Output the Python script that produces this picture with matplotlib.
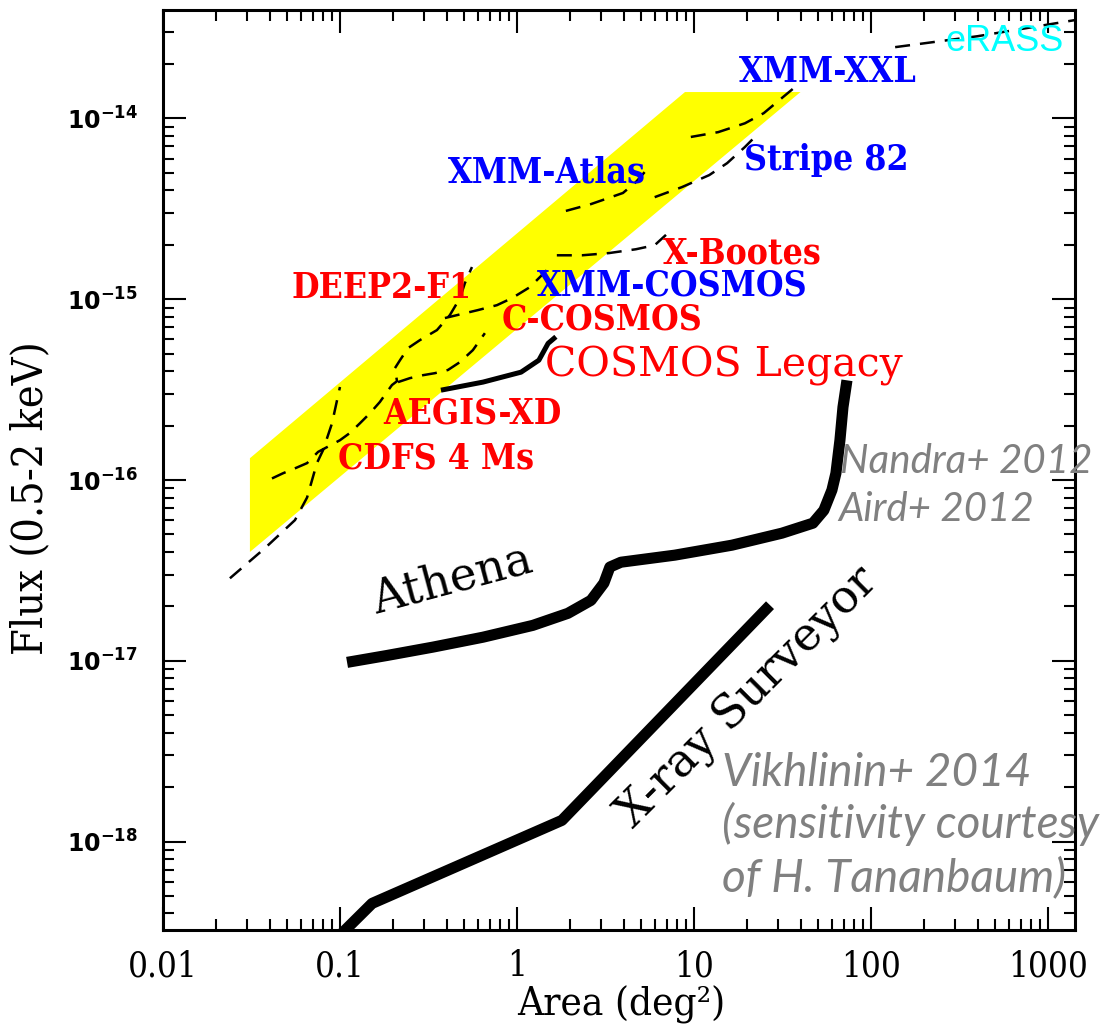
import matplotlib
matplotlib.use('Agg')
import matplotlib.pyplot as plt

# survey limits (area in deg^2, flux in erg/cm2/s)
band_x = [0.031, 0.031, 8.9, 40.0]
band_y = [4.0e-17, 1.32e-16, 1.4e-14, 1.4e-14]

cdfs_x = [0.0239, 0.0377, 0.0557, 0.0652, 0.0741, 0.0802, 0.0902, 0.100]
cdfs_y = [2.86e-17, 4.2e-17, 6.0e-17, 8.0e-17, 1.24e-16, 1.46e-16, 2.06e-16, 3.27e-16]

aegis_x = [0.0413, 0.0477, 0.0557, 0.0652, 0.0752, 0.100, 0.1138, 0.1297, 0.1477, 0.168, 0.1966, 0.21, 0.2046]
aegis_y = [1.02e-16, 1.09e-16, 1.16e-16, 1.24e-16, 1.43e-16, 1.66e-16, 1.82e-16, 2.06e-16, 2.34e-16, 2.70e-16, 3.35e-16, 3.52e-16, 4.16e-16]

deep2_x = [0.2046, 0.2184, 0.2422, 0.283, 0.3532, 0.4178, 0.4764, 0.508, 0.557]
deep2_y = [4.16e-16, 4.60e-16, 5.36e-16, 5.94e-16, 6.75e-16, 8.17e-16, 1.014e-15, 1.227e-15, 1.507e-15]

ccosmos_x = [0.2128, 0.2484, 0.2943, 0.344, 0.4074, 0.4764, 0.5637, 0.659]
ccosmos_y = [3.48e-16, 3.66e-16, 3.80e-16, 3.90e-16, 4.06e-16, 4.49e-16, 5.23e-16, 6.49e-16]

xmmcosmos_x = [0.3917, 0.6026, 0.7705, 0.9376, 1.184, 1.476]
xmmcosmos_y = [7.87e-16, 8.71e-16, 9.27e-16, 1.014e-15, 1.167e-15, 1.449e-15]

bootes_x = [1.68, 2.33, 3.31, 4.7, 6.0, 6.95]
bootes_y = [1.75e-15, 1.75e-15, 1.80e-15, 1.89e-15, 1.99e-15, 2.27e-15]

atlas_x = [1.89, 2.62, 3.97, 4.7, 5.5]
atlas_y = [3.08e-15, 3.36e-15, 3.87e-15, 4.45e-15, 5.3e-15]

stripe_x = [6.0, 8.55, 12.2, 15.4, 19.4, 22.1]
stripe_y = [3.67e-15, 4.17e-15, 4.86e-15, 5.66e-15, 6.95e-15, 7.9e-15]

xxl_x = [9.6, 13.7, 19.4, 24.8, 29.4, 37.2]
xxl_y = [7.9e-15, 8.4e-15, 9.4e-15, 1.07e-14, 1.23e-14, 1.49e-14]

erass_x = [137, 400, 1420]
erass_y = [2.48e-14, 2.85e-14, 3.5e-14]

legacy_x = [0.372, 0.643, 1.055, 1.33, 1.50, 1.66]
legacy_y = [3.14e-16, 3.48e-16, 3.95e-16, 4.6e-16, 5.7e-16, 6.2e-16]

athena_x = [0.1097, 0.1845, 0.335, 0.642, 1.23, 1.94, 2.62, 3.10, 3.35, 3.87, 7.8, 16.4, 31.4, 47, 54.2, 60.2, 63.4, 66.8, 69.5, 73.2]
athena_y = [9.8e-18, 1.07e-17, 1.19e-17, 1.35e-17, 1.57e-17, 1.83e-17, 2.16e-17, 2.69e-17, 3.3e-17, 3.51e-17,
            3.84e-17, 4.36e-17, 5.08e-17, 5.77e-17, 6.8e-17, 8.8e-17, 1.09e-16, 1.66e-16, 2.53e-16, 3.56e-16]

surveyor_x = [0.1, 0.152, 1.795, 26.9]
surveyor_y = [3.03e-19, 4.55e-19, 1.31e-18, 2.03e-17]

xtick_vals = [0.01, 0.1, 1, 10, 100, 1000]
xtick_labels = ['0.01', '0.1', '1', '10', '100', '1000']
ytick_vals = [1e-18, 1e-17, 1e-16, 1e-15, 1e-14]
ytick_labels = [r'$\mathbf{10^{-18}}$', r'$\mathbf{10^{-17}}$', r'$\mathbf{10^{-16}}$',
                r'$\mathbf{10^{-15}}$', r'$\mathbf{10^{-14}}$']

plt.rcParams['mathtext.fontset'] = 'dejavusans'

fig = plt.figure(figsize=(11.07, 10.32), dpi=100)
ax = fig.add_axes([0.1472, 0.0988, 0.8239, 0.8915])
ax.set_xscale('log')
ax.set_yscale('log')
ax.set_xlim(0.01, 1422)
ax.set_ylim(3.24e-19, 3.98e-14)

ax.fill(band_x, band_y, color='yellow', lw=0, zorder=1)

dash = dict(color='black', lw=1.8, linestyle=(0, (6, 4)), zorder=2)
for xs, ys in [(cdfs_x, cdfs_y), (aegis_x, aegis_y), (deep2_x, deep2_y), (ccosmos_x, ccosmos_y),
               (xmmcosmos_x, xmmcosmos_y), (bootes_x, bootes_y), (atlas_x, atlas_y),
               (stripe_x, stripe_y), (xxl_x, xxl_y), (erass_x, erass_y)]:
    ax.plot(xs, ys, **dash)

ax.plot(legacy_x, legacy_y, color='black', lw=3.6, solid_capstyle='butt', zorder=3)
ax.plot(athena_x, athena_y, color='black', lw=8, solid_capstyle='butt', zorder=3)
ax.plot(surveyor_x, surveyor_y, color='black', lw=8, solid_capstyle='butt', zorder=3)

# survey names
lab = dict(family='DejaVu Serif', fontstretch='condensed', fontweight='bold',
           ha='center', va='center', zorder=4, fontsize=25.5)
ax.text(57, 1.81e-14, 'XMM-XXL', color='blue', **lab)
ax.text(56, 5.89e-15, 'Stripe 82', color='blue', **lab)
ax.text(1.48, 5.05e-15, 'XMM-Atlas', color='blue', **lab)
ax.text(18.7, 1.8e-15, 'X-Bootes', color='red', **lab)
ax.text(0.171, 1.15e-15, 'DEEP2-F1', color='red', **lab)
ax.text(7.5, 1.19e-15, 'XMM-COSMOS', color='blue', **lab)
ax.text(3.02, 7.75e-16, 'C-COSMOS', color='red', **lab)
ax.text(0.564, 2.34e-16, 'AEGIS-XD', color='red', **lab)
ax.text(0.348, 1.32e-16, 'CDFS 4 Ms', color='red', **lab)
ax.text(14.8, 4.27e-16, 'COSMOS Legacy', color='red', family='DejaVu Serif', fontsize=29.5,
        ha='center', va='center', zorder=4)
ax.text(572, 2.65e-14, 'eRASS', color='cyan', fontsize=26, family='Liberation Sans',
        ha='center', va='center', zorder=4)

ax.text(0.43, 2.79e-17, 'Athena', color='black', fontsize=33, family='DejaVu Serif',
        rotation=15, ha='center', va='center', zorder=4)
ax.text(20.2, 6.2e-18, 'X-ray Surveyor', color='black', fontsize=33, family='DejaVu Serif',
        rotation=45, ha='center', va='center', zorder=4)

gray = dict(color='#808080', family='Lato', style='italic', ha='left', va='center', zorder=4)
ax.text(66.8, 1.27e-16, 'Nandra+ 2012', fontsize=29, **gray)
ax.text(65, 6.9e-17, 'Aird+ 2012', fontsize=29, **gray)
ax.text(14.4, 2.39e-18, 'Vikhlinin+ 2014', fontsize=33, **gray)
ax.text(14.4, 1.26e-18, '(sensitivity courtesy', fontsize=33, **gray)
ax.text(14.4, 6.34e-19, 'of H. Tananbaum)', fontsize=33, **gray)

ax.set_xticks(xtick_vals)
ax.set_xticklabels(xtick_labels, family='DejaVu Serif', fontstretch='condensed', fontsize=25)
ax.set_yticks(ytick_vals)
ax.set_yticklabels(ytick_labels, fontsize=17)
ax.tick_params(which='both', direction='in', top=True, right=True, width=1.5)
ax.tick_params(which='major', length=16.5)
ax.tick_params(which='minor', length=8)
ax.tick_params(axis='x', pad=14)
ax.tick_params(axis='y', pad=18)
for s in ax.spines.values():
    s.set_linewidth(2.2)

ax.set_xlabel('Area (deg²)', family='DejaVu Serif', fontstretch='condensed', fontsize=29, va='center')
ax.xaxis.set_label_coords(0.502, -0.0815)
ax.set_ylabel('Flux (0.5-2 keV)', family='DejaVu Serif', fontstretch='condensed', fontsize=31, va='center')
ax.yaxis.set_label_coords(-0.146, 0.47)

fig.savefig('out.png', dpi=100)
